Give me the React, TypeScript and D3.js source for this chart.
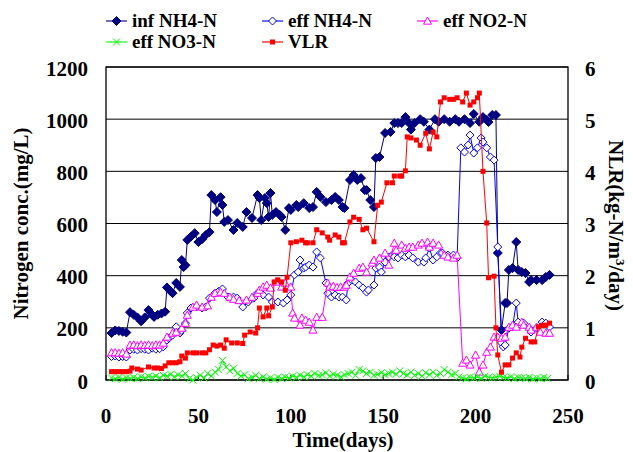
import { useEffect, useRef } from 'react'
import * as d3 from 'd3'

type Pt = [number, number]

// [day, mg/L]
const infNH4: Pt[] = [
  [3, 180], [5, 190], [7, 188], [9, 185], [11, 182], [13, 260], [15, 250], [17, 240], [19, 225], [21, 240],
  [23, 268], [25, 250], [26, 242], [28, 250], [30, 255], [32, 262], [33, 355], [35, 340], [36, 333], [38, 372],
  [40, 357], [41, 460], [42, 433], [43, 440], [44, 537], [46, 550], [48, 563], [50, 529], [52, 540], [54, 556],
  [56, 567], [57, 709], [59, 690], [60, 644], [62, 701], [63, 671], [64, 606], [66, 613], [69, 575], [71, 602],
  [74, 587], [76, 644], [79, 621], [82, 709], [83, 698], [84, 613], [86, 698], [87, 678], [88, 625], [89, 717],
  [90, 633], [92, 644], [94, 633], [95, 625], [97, 575], [99, 659], [100, 652], [103, 671], [104, 663], [107, 678],
  [110, 659], [112, 663], [114, 721], [116, 702], [119, 682], [122, 690], [124, 702], [126, 690], [128, 663], [129, 659],
  [132, 767], [134, 786], [136, 767], [138, 774], [140, 728], [141, 728], [143, 690], [145, 663], [146, 851], [148, 855],
  [151, 947], [154, 951], [156, 985], [158, 985], [160, 985], [162, 1008], [164, 985], [165, 960], [167, 985], [170, 1000],
  [172, 990], [175, 960], [178, 1000], [180, 990], [183, 1000], [186, 990], [189, 1000], [191, 990], [194, 1000], [197, 985],
  [199, 1020], [202, 990], [204, 1008], [206, 997], [207, 989], [209, 1016], [211, 1016], [212, 487], [214, 192], [216, 295],
  [217, 295], [218, 422], [220, 429], [222, 529], [223, 422], [225, 414], [227, 410], [229, 376], [230, 383], [233, 383],
  [236, 383], [238, 395], [240, 403]
]

const effNH4: Pt[] = [
  [3, 90], [5, 92], [7, 88], [9, 90], [11, 88], [13, 115], [15, 118], [17, 115], [19, 120], [21, 118],
  [23, 115], [25, 122], [27, 118], [29, 120], [31, 127], [33, 153], [34, 160], [36, 172], [38, 204], [40, 180],
  [41, 190], [43, 218], [44, 257], [46, 276], [49, 280], [52, 276], [54, 280], [56, 314], [59, 333], [61, 340],
  [63, 349], [66, 318], [69, 318], [71, 314], [74, 280], [77, 299], [80, 314], [82, 333], [85, 326], [88, 318],
  [90, 299], [93, 299], [96, 295], [98, 307], [100, 326], [102, 403], [104, 414], [105, 460], [107, 429], [108, 433],
  [110, 441], [112, 433], [114, 491], [116, 468], [119, 372], [120, 333], [122, 318], [124, 326], [126, 318], [128, 318],
  [130, 307], [131, 372], [133, 383], [135, 376], [137, 364], [139, 353], [141, 337], [142, 345], [145, 364], [146, 429],
  [148, 433], [149, 414], [151, 452], [153, 472], [155, 479], [156, 472], [158, 468], [160, 479], [162, 472], [164, 479],
  [166, 468], [169, 452], [172, 452], [173, 468], [175, 506], [177, 460], [179, 472], [181, 487], [182, 487], [185, 479],
  [188, 479], [190, 468], [192, 890], [194, 874], [196, 901], [197, 939], [199, 870], [201, 890], [203, 928], [204, 912],
  [206, 890], [208, 855], [210, 843], [212, 510], [214, 142], [215, 127], [216, 134], [218, 199], [220, 203], [222, 295],
  [223, 222], [226, 218], [229, 199], [230, 184], [233, 199], [236, 222], [238, 218], [240, 203]
]

const effNO2: Pt[] = [
  [3, 105], [5, 105], [7, 103], [9, 105], [11, 100], [13, 134], [15, 135], [17, 132], [19, 135], [21, 133],
  [23, 135], [25, 132], [27, 135], [29, 135], [31, 142], [33, 165], [36, 180], [38, 184], [41, 199], [43, 218],
  [44, 249], [47, 280], [49, 288], [52, 280], [55, 285], [57, 318], [59, 333], [62, 337], [64, 333], [67, 318],
  [69, 310], [72, 305], [76, 307], [79, 318], [82, 333], [83, 345], [85, 357], [87, 364], [89, 353], [92, 376],
  [95, 357], [97, 372], [100, 357], [101, 257], [102, 238], [105, 211], [106, 238], [108, 230], [110, 222], [112, 192],
  [114, 241], [117, 241], [120, 372], [121, 357], [123, 360], [125, 355], [127, 357], [129, 357], [130, 364], [132, 395],
  [134, 410], [137, 429], [139, 433], [141, 414], [144, 449], [145, 460], [148, 468], [151, 487], [153, 441], [156, 525],
  [157, 498], [160, 518], [162, 506], [164, 510], [166, 510], [169, 518], [171, 525], [174, 529], [175, 510], [177, 525],
  [180, 518], [183, 479], [185, 472], [188, 468], [190, 479], [193, 65], [195, 77], [197, 58], [200, 96], [202, 31],
  [204, 58], [206, 107], [208, 127], [210, 165], [212, 165], [214, 161], [216, 165], [218, 203], [220, 211], [222, 203],
  [225, 222], [226, 211], [229, 203], [230, 192], [233, 203], [235, 184], [238, 180], [240, 180]
]

const effNO3: Pt[] = [
  [3, 8], [5, 5], [7, 10], [9, 3], [11, 8], [13, 6], [15, 10], [17, 5], [19, 12], [21, 8],
  [23, 14], [25, 10], [27, 15], [29, 8], [31, 18], [33, 15], [35, 22], [37, 12], [39, 20], [41, 15],
  [43, 25], [45, 5], [47, 0], [49, 10], [51, 18], [53, 8], [55, 25], [57, 15], [59, 30], [61, 40],
  [63, 75], [65, 50], [67, 35], [69, 45], [71, 25], [73, 15], [75, 20], [77, 5], [79, 10], [81, 18],
  [83, 5], [85, 12], [87, 3], [89, 8], [91, 2], [93, 10], [95, 5], [97, 12], [99, 8], [101, 15],
  [103, 10], [105, 18], [107, 12], [109, 20], [111, 15], [113, 25], [115, 18], [117, 20], [119, 28], [121, 15],
  [123, 22], [125, 18], [127, 12], [129, 20], [131, 25], [133, 30], [135, 18], [137, 40], [139, 35], [141, 25],
  [143, 30], [145, 18], [147, 22], [149, 28], [151, 20], [153, 25], [155, 30], [157, 22], [159, 35], [161, 25],
  [163, 20], [165, 30], [167, 18], [169, 25], [171, 15], [173, 28], [175, 20], [177, 30], [179, 18], [181, 25],
  [183, 40], [185, 30], [187, 20], [189, 25], [191, 12], [193, 8], [195, 5], [197, 10], [199, 8], [201, 12],
  [203, 6], [205, 15], [207, 10], [209, 8], [211, 12], [213, 15], [215, 10], [217, 8], [219, 12], [221, 5],
  [223, 10], [225, 8], [227, 6], [229, 10], [231, 4], [233, 8], [235, 5], [237, 10], [239, 6]
]

// [day, kg-N/m3/day]
const vlr: Pt[] = [
  [3, 0.16], [5, 0.16], [7, 0.16], [9, 0.16], [11, 0.16], [13, 0.17], [14, 0.23], [17, 0.21], [19, 0.19], [23, 0.25],
  [26, 0.23], [28, 0.23], [30, 0.22], [32, 0.27], [34, 0.33], [36, 0.33], [38, 0.33], [40, 0.35], [41, 0.46], [43, 0.42],
  [44, 0.52], [47, 0.52], [49, 0.52], [52, 0.52], [54, 0.52], [56, 0.58], [58, 0.67], [60, 0.65], [62, 0.67], [64, 0.61],
  [65, 0.77], [68, 0.71], [71, 0.71], [74, 0.7], [75, 0.86], [78, 0.92], [81, 0.9], [82, 1.0], [83, 1.38], [85, 1.21],
  [87, 1.38], [88, 1.23], [90, 1.4], [91, 1.88], [93, 1.92], [95, 1.88], [97, 1.72], [98, 1.97], [100, 2.63], [103, 2.65],
  [106, 2.68], [108, 2.63], [109, 2.63], [112, 2.63], [114, 2.88], [117, 2.82], [120, 2.74], [121, 2.68], [124, 2.78], [126, 2.74],
  [128, 2.63], [129, 2.63], [132, 3.03], [134, 3.12], [137, 3.08], [139, 2.88], [141, 2.91], [145, 2.65], [147, 3.35], [149, 3.41],
  [152, 3.78], [155, 3.78], [156, 3.91], [159, 3.91], [160, 3.91], [162, 4.01], [163, 4.66], [165, 4.64], [168, 4.6], [170, 4.5],
  [173, 4.73], [175, 4.43], [177, 4.75], [179, 4.66], [181, 5.33], [183, 5.41], [186, 5.38], [188, 5.38], [190, 5.41], [193, 5.33],
  [195, 5.5], [197, 5.27], [199, 5.33], [201, 5.41], [202, 5.5], [204, 4.0], [206, 3.01], [207, 1.96], [210, 1.99], [211, 1.0],
  [212, 0.48], [214, 0.15], [216, 0.29], [218, 0.29], [220, 0.42], [222, 0.52], [224, 0.44], [225, 0.63], [227, 0.8], [230, 0.73],
  [232, 0.73], [234, 1.02], [236, 1.05], [238, 1.05], [240, 1.09]
]

const xTicks = [0, 50, 100, 150, 200, 250]
const leftTicks = [0, 200, 400, 600, 800, 1000, 1200]
const rightTicks = [0, 1, 2, 3, 4, 5, 6]

const FONT = '"Liberation Serif", "Times New Roman", serif'

type Marker = 'diamondFill' | 'diamondOpen' | 'triangle' | 'cross' | 'square'

interface Series {
  name: string
  data: Pt[]
  color: string
  marker: Marker
  axis: 'left' | 'right'
}

const series: Series[] = [
  { name: 'inf NH4-N', data: infNH4, color: '#000080', marker: 'diamondFill', axis: 'left' },
  { name: 'eff NH4-N', data: effNH4, color: '#0000FF', marker: 'diamondOpen', axis: 'left' },
  { name: 'eff NO2-N', data: effNO2, color: '#FF00FF', marker: 'triangle', axis: 'left' },
  { name: 'eff NO3-N', data: effNO3, color: '#00FF00', marker: 'cross', axis: 'left' },
  { name: 'VLR', data: vlr, color: '#FF0000', marker: 'square', axis: 'right' }
]

function drawMarker(g: d3.Selection<SVGGElement, unknown, null, undefined>, kind: Marker, cx: number, cy: number, color: string) {
  if (kind === 'diamondFill') {
    const r = 4.5
    g.append('path').attr('d', `M${cx},${cy - r}L${cx + r},${cy}L${cx},${cy + r}L${cx - r},${cy}Z`).attr('fill', color).attr('stroke', color)
  } else if (kind === 'diamondOpen') {
    const r = 4
    g.append('path').attr('d', `M${cx},${cy - r}L${cx + r},${cy}L${cx},${cy + r}L${cx - r},${cy}Z`).attr('fill', '#fff').attr('stroke', color).attr('stroke-width', 1)
  } else if (kind === 'triangle') {
    const r = 4
    g.append('path').attr('d', `M${cx},${cy - r}L${cx + r},${cy + r * 0.8}L${cx - r},${cy + r * 0.8}Z`).attr('fill', '#fff').attr('stroke', color).attr('stroke-width', 1)
  } else if (kind === 'cross') {
    const r = 3.5
    g.append('path').attr('d', `M${cx - r},${cy - r}L${cx + r},${cy + r}M${cx - r},${cy + r}L${cx + r},${cy - r}`).attr('stroke', color).attr('stroke-width', 1)
  } else {
    const r = 2.5
    g.append('rect').attr('x', cx - r).attr('y', cy - r).attr('width', 2 * r).attr('height', 2 * r).attr('fill', color)
  }
}

export default function App() {
  const svgRef = useRef<SVGSVGElement>(null)

  useEffect(() => {
    if (!svgRef.current) return
    const svg = d3.select(svgRef.current)
    svg.selectAll('*').remove()

    const left = 106, right = 568, top = 67, bottom = 380
    const x = d3.scaleLinear().domain([0, 250]).range([left, right])
    const y = d3.scaleLinear().domain([0, 1200]).range([bottom, top])
    const y2 = d3.scaleLinear().domain([0, 6]).range([bottom, top])

    // grid
    svg.append('g').selectAll('line')
      .data(leftTicks)
      .enter()
      .append('line')
      .attr('x1', left).attr('x2', right)
      .attr('y1', d => y(d)).attr('y2', d => y(d))
      .attr('stroke', '#000').attr('stroke-width', 1)

    // frame
    svg.append('rect')
      .attr('x', left).attr('y', top)
      .attr('width', right - left).attr('height', bottom - top)
      .attr('fill', 'none').attr('stroke', '#000').attr('stroke-width', 1.3)

    // x ticks inside
    svg.append('g').selectAll('line')
      .data(xTicks)
      .enter()
      .append('line')
      .attr('x1', d => x(d)).attr('x2', d => x(d))
      .attr('y1', bottom).attr('y2', bottom - 5)
      .attr('stroke', '#000')

    const tickStyle = (sel: d3.Selection<SVGTextElement, number, SVGGElement, unknown>) =>
      sel.style('font-family', FONT).style('font-weight', 'bold').style('font-size', '21px').attr('fill', '#000')

    svg.append('g').selectAll('text')
      .data(xTicks)
      .enter()
      .append('text')
      .attr('x', d => x(d)).attr('y', 423)
      .attr('text-anchor', 'middle')
      .text(d => d)
      .call(tickStyle)

    svg.append('g').selectAll('text')
      .data(leftTicks)
      .enter()
      .append('text')
      .attr('x', 88).attr('y', d => y(d) + 8.5)
      .attr('text-anchor', 'end')
      .text(d => d)
      .call(tickStyle)

    svg.append('g').selectAll('text')
      .data(rightTicks)
      .enter()
      .append('text')
      .attr('x', 585).attr('y', d => y2(d) + 8.5)
      .attr('text-anchor', 'start')
      .text(d => d)
      .call(tickStyle)

    // axis titles
    svg.append('text')
      .attr('x', 343).attr('y', 447)
      .attr('text-anchor', 'middle')
      .style('font-family', FONT).style('font-weight', 'bold').style('font-size', '21px')
      .text('Time(days)')

    svg.append('text')
      .attr('transform', `translate(28, ${(top + bottom) / 2}) rotate(-90)`)
      .attr('text-anchor', 'middle')
      .style('font-family', FONT).style('font-weight', 'bold').style('font-size', '21px')
      .text('Nitrogen conc.(mg/L)')

    const rt = svg.append('text')
      .attr('transform', `translate(609, ${(top + bottom) / 2 + 2}) rotate(90)`)
      .attr('text-anchor', 'middle')
      .style('font-family', FONT).style('font-weight', 'bold').style('font-size', '21px')
    rt.append('tspan').text('NLR(kg-N/m')
    rt.append('tspan').attr('baseline-shift', 'super').style('font-size', '13px').text('3')
    rt.append('tspan').text('/day)')

    // series
    series.forEach(s => {
      const ys = s.axis === 'left' ? y : y2
      const line = d3.line<Pt>().x(d => x(d[0])).y(d => ys(d[1]))
      const g = svg.append('g')
      g.append('path')
        .attr('d', line(s.data) || '')
        .attr('fill', 'none')
        .attr('stroke', s.color)
        .attr('stroke-width', 1)
      s.data.forEach(d => drawMarker(g, s.marker, x(d[0]), ys(d[1]), s.color))
    })

    // legend
    const legendPos = [
      [106, 21], [262, 21], [417, 21],
      [106, 42], [262, 42]
    ]
    series.forEach((s, i) => {
      const [lx, ly] = legendPos[i]
      const g = svg.append('g')
      g.append('line')
        .attr('x1', lx).attr('x2', lx + 21)
        .attr('y1', ly).attr('y2', ly)
        .attr('stroke', s.color).attr('stroke-width', 1.5).attr('opacity', 0.75)
      drawMarker(g, s.marker, lx + 10.5, ly, s.color)
      g.append('text')
        .attr('x', lx + 26).attr('y', ly + 6)
        .style('font-family', FONT).style('font-weight', 'bold').style('font-size', '19px')
        .text(s.name)
    })
  }, [])

  return (
    <svg
      ref={svgRef}
      width={633}
      height={452}
      style={{ position: 'absolute', left: 0, top: 0, background: '#fff' }}
    />
  )
}
